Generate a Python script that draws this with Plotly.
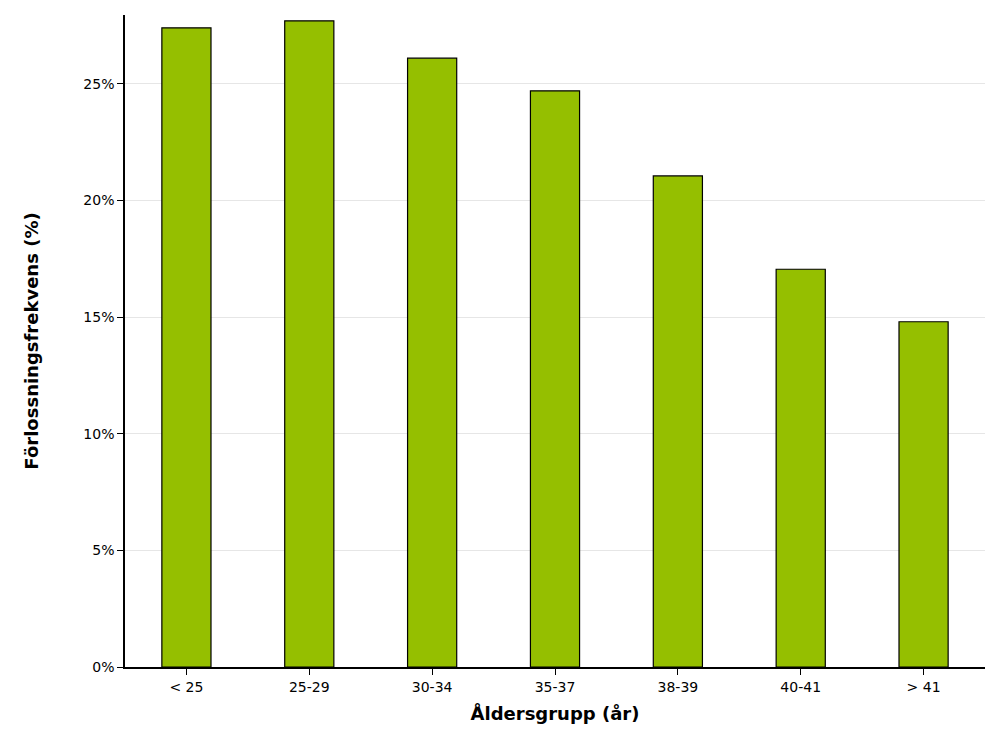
import plotly.graph_objects as go

# age groups and delivery frequency (%)
groups = ['< 25', '25-29', '30-34', '35-37', '38-39', '40-41', '> 41']
freq = [27.4, 27.7, 26.1, 24.7, 21.05, 17.05, 14.8]
yticks = [0, 5, 10, 15, 20, 25]
ylabels = [f'{v}%' for v in yticks]

fig = go.Figure(go.Bar(
    x=groups, y=freq, width=0.4,
    marker=dict(color='#95bf00', line=dict(color='black', width=1.2)),
))

fig.update_layout(
    width=1000, height=750,
    margin=dict(l=117, r=23, t=7, b=91),
    plot_bgcolor='white', paper_bgcolor='white',
    font=dict(family='DejaVu Sans', size=14, color='black'),
    showlegend=False,
)
fig.update_xaxes(
    showline=True, linecolor='black', linewidth=1.5,
    ticks='outside', ticklen=6, tickcolor='black',
    title=dict(text='<b>Åldersgrupp (år)</b>', font=dict(size=18), standoff=14),
)
fig.update_yaxes(
    range=[0, 27.95], tickvals=yticks, ticktext=ylabels,
    showline=True, linecolor='black', linewidth=1.5,
    ticks='outside', ticklen=6, tickcolor='black',
    showgrid=True, gridcolor='#e6e6e6', zeroline=False,
    title=dict(text='<b>Förlossningsfrekvens (%)</b>', font=dict(size=18), standoff=40),
)

fig.write_html('out.html')
